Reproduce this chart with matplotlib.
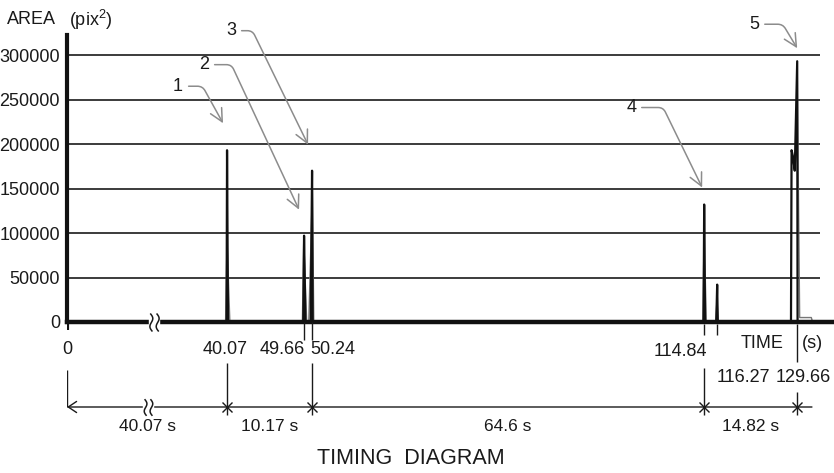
import numpy as np
import matplotlib
matplotlib.use("Agg")
import matplotlib.pyplot as plt
from matplotlib import transforms
from matplotlib.path import Path

plt.rcParams['font.family'] = ['Liberation Sans', 'DejaVu Sans']
plt.rcParams['mathtext.fontset'] = 'custom'
plt.rcParams['mathtext.rm'] = 'Liberation Sans'
plt.rcParams['mathtext.it'] = 'Liberation Sans'

INK = '#1a1a1a'
GREY = '#8c8c8c'

# --- data ---
event_times = [40.07, 49.66, 50.24, 114.84, 116.27, 129.66]   # s
interval_marks = [0, 40.07, 50.24, 114.84, 129.66]             # s
y_ticks = [0, 50000, 100000, 150000, 200000, 250000, 300000]

# black spikes (time s, area pix^2)
spike_t = [[39.95, 40.07, 40.19],
           [49.56, 49.66, 49.76],
           [50.14, 50.24, 50.34],
           [114.74, 114.84, 114.94],
           [116.17, 116.27, 116.37],
           [128.62, 128.72, 128.95, 129.25, 129.66, 129.72]]
spike_a = [[0, 193000, 0],
           [0, 97000, 0],
           [0, 170000, 0],
           [0, 132000, 0],
           [0, 42000, 0],
           [0, 193000, 186000, 170000, 293000, 0]]
# grey outline traces
outline_t = [[39.7, 40.07, 40.42],
             [49.45, 49.62, 49.85],
             [50.0, 50.3, 50.52],
             [114.6, 114.84, 115.08],
             [116.1, 116.25, 116.45],
             [129.66, 129.85, 130.05, 131.9, 132.1]]
outline_a = [[0, 92000, 0],
             [0, 92000, 0],
             [0, 150000, 0],
             [0, 100000, 0],
             [0, 25000, 0],
             [290000, 150000, 5000, 5000, 0]]

peak_ids = ['1', '2', '3', '4', '5']
peak_t = [40.07, 49.66, 50.24, 114.84, 129.66]
peak_a = [193000, 97000, 170000, 132000, 293000]

# --- the drawing is not to scale: pixel column of each marked time ---
mark_px = [67, 227, 304, 312, 704, 717, 797]
anch_t = [-20, 0] + event_times + [200]
anch_p = [-13] + mark_px + [797 + (200 - 129.66) * 6.3]


def fwd(t):
    return np.interp(t, anch_t, anch_p)


def inv(p):
    return np.interp(p, anch_p, anch_t)


# break symbol: two small vertical S-curves
s = np.linspace(-1, 1, 15)
verts, codes = [], []
for k in (-0.35, 0.35):
    pts = np.column_stack([k + 0.22 * np.sin(np.pi * s) - 0.12 * s, s])
    verts += list(pts)
    codes += [Path.MOVETO] + [Path.LINETO] * (len(s) - 1)
BREAK = Path(verts, codes)


def axis_break(axis, x, y, size):
    axis.plot([x], [y], marker='s', ms=size * 0.55, color='white', mec='white',
              zorder=5, clip_on=False)
    axis.plot([x], [y], marker=BREAK, ms=size, mfc='none', mec=INK, mew=1.1,
              zorder=6, clip_on=False)


fig = plt.figure(figsize=(8.34, 4.73), dpi=100)
ax = fig.add_axes([67 / 834, 151 / 473, 767 / 834, 287 / 473])
ax2 = fig.add_axes([67 / 834, 0, 767 / 834, 151 / 473], sharex=ax)
ax.set_xscale('function', functions=(fwd, inv))
ax.set_xlim(0, 135.5)
ax.set_ylim(0, 322472)

# main axes look
for sp in ['top', 'right']:
    ax.spines[sp].set_visible(False)
ax.spines['bottom'].set_linewidth(3.2)
ax.spines['bottom'].set_color('#111')
ax.spines['left'].set_linewidth(3)
ax.spines['left'].set_color('#111')
ax.set_xticks([])
ax.set_yticks(y_ticks)
ax.set_yticklabels([str(v) for v in y_ticks])
ax.tick_params(axis='y', length=0, pad=5, labelsize=13, labelcolor=INK)
ax.hlines(y_ticks[1:], 0, 133.3, color=INK, lw=1.2)

for t, a in zip(outline_t, outline_a):
    ax.plot(t, a, color='#777777', lw=1.0, clip_on=False)
for t, a in zip(spike_t, spike_a):
    ax.plot(t, a, color='#111', lw=1.6, clip_on=False)

axis_break(ax, 21.8, 0, 13)

fig.text(7 / 834, 1 - 20 / 473, 'AREA', fontsize=13, va='center', color=INK)
fig.text(69 / 834, 1 - 20 / 473, '(pix$^{2}$)', fontsize=13, va='center', color=INK)

# numbered call-outs
tip_off = [(-4, 27), (-5, 26), (-4, 26), (-2, 17), (0, 13)]
text_off = [(-45, 37), (-95, 145), (-77, 114), (-71, 80), (-43, 24)]
angle_b = [-61, -65, -64, -64, -59]
for lab, t, a, (dx, dy), (tx, ty), ab in zip(peak_ids, peak_t, peak_a,
                                              tip_off, text_off, angle_b):
    tr = transforms.offset_copy(ax.transData, fig=fig, x=dx, y=dy, units='dots')
    ax.annotate(lab, xy=(t, a), xycoords=tr, xytext=(tx, ty),
                textcoords='offset pixels', ha='center', va='center',
                fontsize=13, color=INK, annotation_clip=False,
                arrowprops=dict(arrowstyle='->,head_length=0.7,head_width=0.35',
                                color=GREY, lw=1.1, shrinkA=2, shrinkB=0,
                                connectionstyle=f'angle,angleA=0,angleB={ab},rad=5'))

# --- lower strip: tick values and timing diagram (y = pixels below axis) ---
ax2.set_ylim(151, 0)
ax2.axis('off')

ax2.vlines(0, 0, 8, color='#111', lw=3)
ax2.vlines([49.66, 50.24], 0, 18, color=INK, lw=1)
ax2.vlines([114.84, 116.27], 2, 13, color=INK, lw=1)
ax2.vlines(129.66, 2, 40, color=INK, lw=1)

lab_ha = ['center', 'center', 'right', 'left', 'right', 'left', 'center']
lab_dx = [0, -2, 1, -2, 3, -1, 6]
lab_y = [28, 28, 28, 28, 30, 55, 55]
for t, ha, dx, y in zip([0] + event_times, lab_ha, lab_dx, lab_y):
    ax2.annotate(f'{t:g}', xy=(t, y), xytext=(dx, 0), textcoords='offset pixels',
                 ha=ha, va='center', fontsize=13, color=INK, annotation_clip=False)
ax2.annotate('TIME', xy=(129.66, 21), xytext=(-14, 0), textcoords='offset pixels',
             ha='right', va='center', fontsize=13, color=INK)
ax2.annotate('(s)', xy=(129.66, 21), xytext=(5, 0), textcoords='offset pixels',
             ha='left', va='center', fontsize=13, color=INK)

base = 85
ax2.annotate('', xy=(0, base), xytext=(132.0, base),
             arrowprops=dict(arrowstyle='->,head_length=0.6,head_width=0.4',
                             color=INK, lw=1, shrinkA=0, shrinkB=0))
tops = [48, 41, 41, 46, 70]
bots = [base, 93, 93, 93, 93]
ax2.vlines(interval_marks, tops, bots, color=INK, lw=1)
ax2.plot(interval_marks[1:], [base] * 4, 'x', ms=7, mew=1, color=INK)
axis_break(ax2, inv(148), base, 12)

for a, b in zip(interval_marks[:-1], interval_marks[1:]):
    mid = inv((fwd(a) + fwd(b)) / 2)
    ax2.text(mid, 104, f'{round(b - a, 2):g} s', ha='center', va='center',
             fontsize=12.5, color=INK)

fig.text(411 / 834, 1 - 458 / 473, 'TIMING  DIAGRAM', fontsize=15.5,
         ha='center', va='center', color=INK)

fig.savefig('out.png', dpi=100)
